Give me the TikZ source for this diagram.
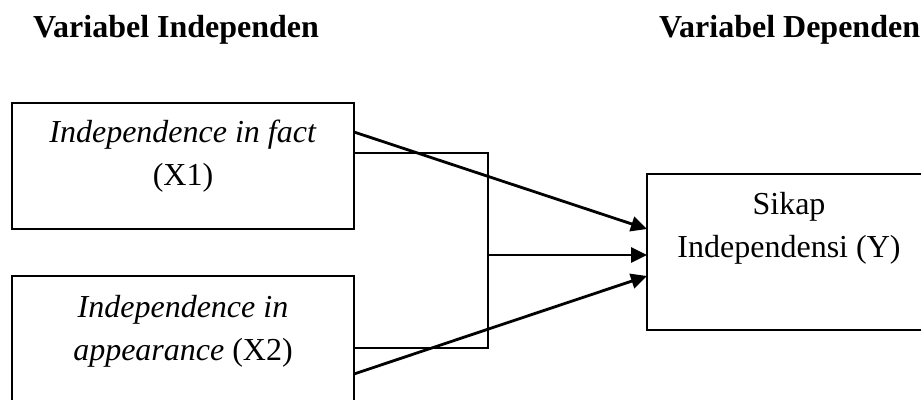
\documentclass[tikz,border=0pt]{standalone}
\usepackage{fontspec}
\setmainfont{Liberation Serif}
\usetikzlibrary{arrows.meta,calc}
\tikzset{
  boxshape/.style={draw, line width=1.9pt, inner sep=0pt, outer sep=0pt, anchor=north west},
  txt/.style={inner sep=0pt, outer sep=0pt, align=center, font=\fontsize{32}{43}\selectfont},
  arr/.style={line width=2.8pt, -{Triangle[length=16pt,width=15pt]}},
  bracketline/.style={line width=1.7pt}
}
\begin{document}
\begin{tikzpicture}[x=1pt,y=-1pt]
\useasboundingbox (0,0) rectangle (921,399);
\clip (0,0) rectangle (921,399);
\fill[white] (0,0) rectangle (921,399);
% headers
\node[txt, anchor=base west] (h1) at (33,37) {\bfseries Variabel Independen};
\node[txt, anchor=base west] (h2) at (659,37) {\bfseries Variabel Dependen};
% boxes
\node[boxshape, minimum width=342pt, minimum height=126pt] (b1) at (12,103) {};
\node[boxshape, minimum width=342pt, minimum height=126pt] (b2) at (12,276) {};
\node[boxshape, minimum width=284pt, minimum height=156pt] (y) at (647,174) {};
% texts (base anchor = baseline of the last line)
\node[txt, anchor=base] (t1) at (183,185) {\textit{Independence in fact}\\(X1)};
\node[txt, anchor=base] (t2) at (183,360) {\textit{Independence in}\\\textit{appearance} (X2)};
\node[txt, anchor=base] (ty) at (789,257) {Sikap\\Independensi (Y)};
% bracket
\coordinate (jn) at (488,255);
\draw[bracketline] ($(b1.north east)+(0,50)$) -| (jn) |- ($(b2.north east)+(0,72)$);
% arrows
\draw[arr] ($(b1.north east)+(0,29)$) -- ($(y.north west)+(0,55)$);
\draw[arr] (jn) -- (y.west |- jn);
\draw[arr] ($(b2.north east)+(0,98)$) -- ($(y.north west)+(0,102)$);
\end{tikzpicture}
\end{document}
